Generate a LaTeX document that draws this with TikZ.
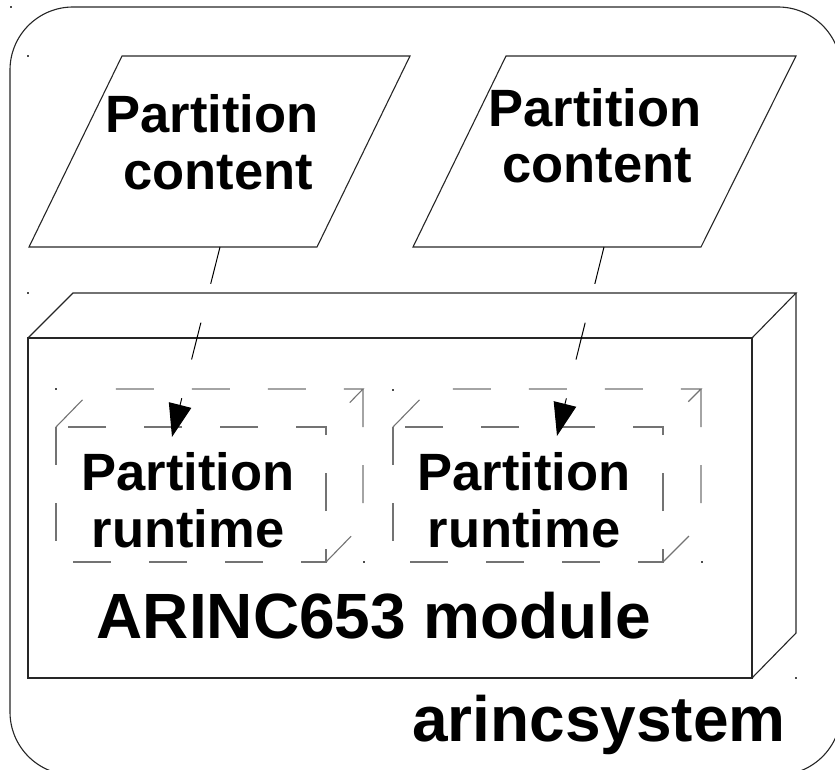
\documentclass[tikz,border=0pt]{standalone}
\usepackage{fontspec}
\setmainfont{Liberation Sans}
\usetikzlibrary{arrows.meta}
\begin{document}
\begin{tikzpicture}[x=1pt,y=-1pt,line join=miter,
  frame/.style={draw=black!85,line width=1.1pt},
  ghost/.style={draw=black!55,line width=1.1pt,dash pattern=on 38pt off 38pt},
  bigtxt/.style={font=\bfseries\fontsize{64}{64}\selectfont,inner sep=0pt,anchor=base},
  midtxt/.style={font=\bfseries\fontsize{52.5}{52.5}\selectfont,inner sep=0pt,anchor=base},
  link/.style={draw=black,line width=1pt,dash pattern=on 38pt off 40pt,
    -{Triangle[length=33pt,width=23pt]}},
  speck/.style={fill=black!70,minimum size=1.6pt,inner sep=0pt,shape=rectangle}]

\useasboundingbox (0,0) rectangle (835,770);

% outer system frame, running past the page on the right and bottom
\begin{scope}
  \clip (0,0) rectangle (835,770);
  \draw[frame,rounded corners=63pt] (10,7) rectangle (841,775);
\end{scope}

% partition contents
\draw[frame] (122,56) -- (410,56) -- (317,247) -- (29,247) -- cycle;
\draw[frame] (506,56) -- (796,56) -- (701,247) -- (413,247) -- cycle;

% ARINC653 module box
\draw[frame] (28,338) rectangle (752,678);
\draw[frame] (28,338) -- (73,293) -- (796,293) -- (752,338);
\draw[frame] (796,293) -- (796,633) -- (752,678);

% partition runtimes
\draw[ghost] (56,427) rectangle (326,562);
\draw[ghost] (56,427) -- (93,389) -- (363,389) -- (326,427);
\draw[ghost] (363,389) -- (363,524) -- (326,562);
\draw[ghost] (393,427) rectangle (663,562);
\draw[ghost] (393,427) -- (430,389) -- (701,389) -- (663,427);
\draw[ghost] (701,389) -- (701,524) -- (663,562);

% labels
\node[midtxt] (pc1a) at (212,133) {Partition};
\node[midtxt] (pc1b) at (218,190) {content};
\node[midtxt] (pc2a) at (595,127) {Partition};
\node[midtxt] (pc2b) at (597,183) {content};
\node[midtxt] (pr1a) at (188,490) {Partition};
\node[midtxt] (pr1b) at (188,547) {runtime};
\node[midtxt] (pr2a) at (524,490) {Partition};
\node[midtxt] (pr2b) at (524,547) {runtime};
\node[bigtxt] (mod) at (374,638) {ARINC653 module};
\node[bigtxt] (sys) at (599,741) {arincsystem};

% deployment links
\coordinate (pc1foot) at (220,247);
\coordinate (pr1head) at (172,437);
\coordinate (pc2foot) at (604,247);
\coordinate (pr2head) at (557,436);
\draw[link] (pc1foot) -- (pr1head);
\draw[link] (pc2foot) -- (pr2head);

% corner marks
\foreach \p in {(11,7),(28,56),(28,293),(796,678),(56,389),(364,562),(393,390),(702,562)}
  \node[speck] at \p {};
\end{tikzpicture}
\end{document}
